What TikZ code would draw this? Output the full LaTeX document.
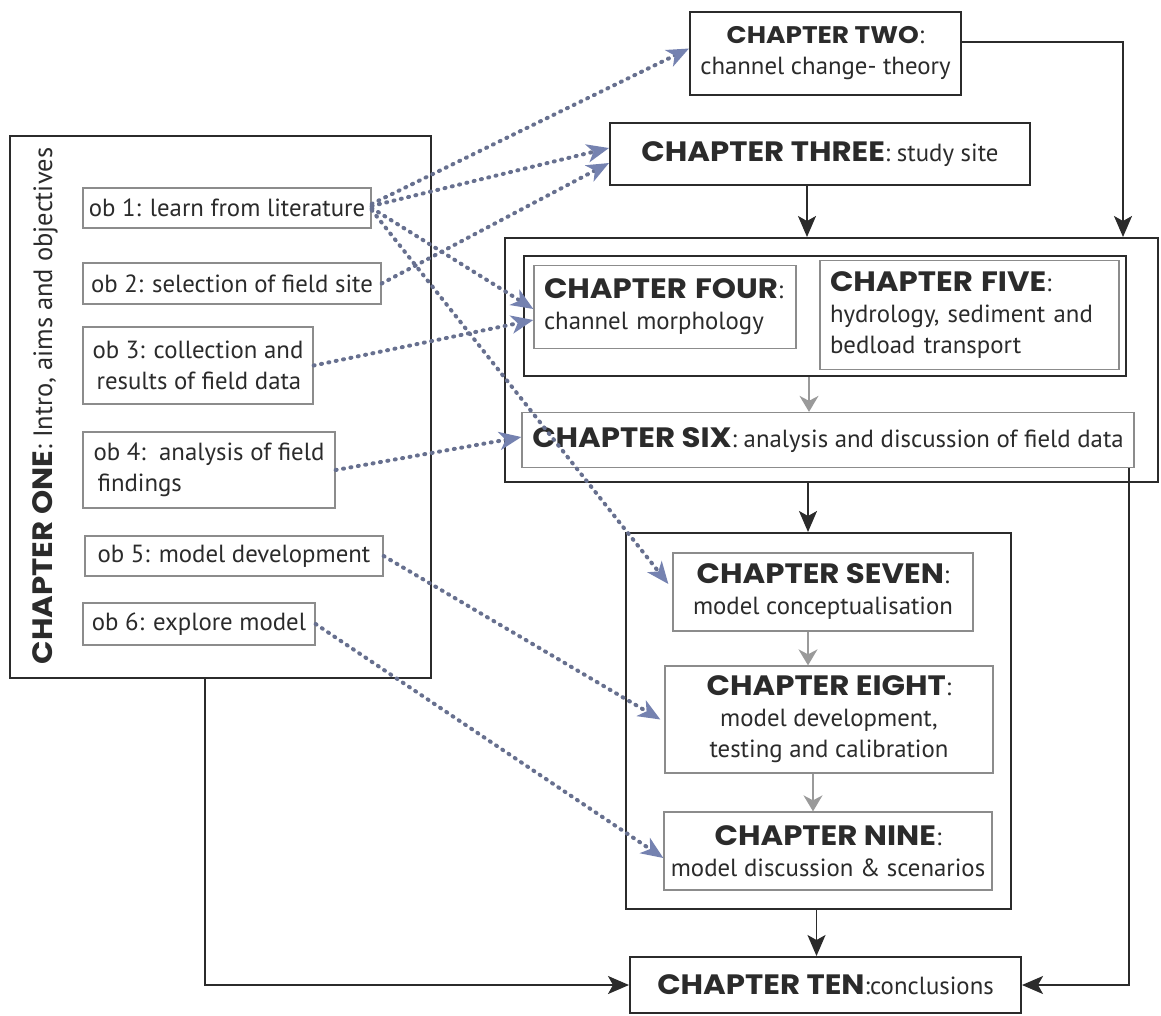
\documentclass[tikz,border=0pt]{standalone}
\usepackage{fontspec}
\setmainfont{PT Sans}
\newfontfamily\hfont[FakeStretch=1.1]{Poppins}
\usetikzlibrary{arrows.meta}
\definecolor{dk}{HTML}{2B2B2B}
\definecolor{lt}{HTML}{8C8C8C}
\definecolor{gr}{HTML}{9A9A9A}
\definecolor{bl}{HTML}{67708F}
\definecolor{blh}{HTML}{7582B0}
\newcommand\hd[1]{{\hfont\bfseries\fontsize{28}{31}\selectfont #1}}
\newcommand\hdsmall[1]{{\hfont\bfseries\fontsize{24}{31}\selectfont #1}}
\tikzset{
  mainbox/.style={draw=dk, line width=2pt, inner sep=0pt},
  litebox/.style={draw=lt, line width=1.3pt, inner sep=0pt},
  txt/.style={font=\fontsize{24.8}{31}\selectfont, text=dk},
  conn/.style={draw=dk, line width=1.8pt, -{Stealth[length=21pt,width=18pt,inset=5pt]}},
  gconn/.style={draw=gr, line width=1.5pt, -{Stealth[length=16pt,width=19pt,inset=5pt]}},
  dots/.style={draw=bl, line width=4pt, dash pattern=on 1pt off 6.5pt, line cap=round,
    -{Stealth[length=22pt,width=18pt,inset=6pt,color=blh]}}
}
\begin{document}
\begin{tikzpicture}[x=1pt,y=-1pt]
\useasboundingbox[fill=white] (0,0) rectangle (1161,1015);

% chapter one
\node[mainbox, minimum width=421pt, minimum height=542pt] (ch1) at (220.5,407) {};
\node[font=\fontsize{26.5}{31}\selectfont, text=dk, rotate=90, inner sep=0pt] (ch1lbl) at (45,406) {\hd{CHAPTER ONE}: Intro, aims and objectives};

\node[litebox, txt, align=left, minimum width=288pt, minimum height=40pt] (ob1) at (227,208) {ob 1: learn from literature};
\node[litebox, txt, align=left, minimum width=298pt, minimum height=41pt] (ob2) at (232,283.5) {ob 2: selection of field site};
\node[litebox, txt, align=left, minimum width=230pt, minimum height=77pt] (ob3) at (198,365.5) {ob 3: collection and\\\hspace*{4pt}results of field data};
\node[litebox, txt, align=left, minimum width=252pt, minimum height=76pt] (ob4) at (209,470) {ob 4:\ \ analysis of field\\\hspace*{4pt}findings};
\node[litebox, txt, align=left, minimum width=298pt, minimum height=40pt] (ob5) at (234,556) {ob 5: model development};
\node[litebox, txt, align=left, minimum width=232pt, minimum height=42pt] (ob6) at (199,624) {ob 6: explore model};

% top chapters
\node[mainbox, txt, align=center, minimum width=271pt, minimum height=83pt] (ch2) at (825.5,53.5) {\hdsmall{CHAPTER TWO}:\\channel change- theory};
\node[mainbox, txt, minimum width=420pt, minimum height=62pt] (ch3) at (820,154) {\hd{CHAPTER THREE}: study site};

% group chapters 4-6
\node[mainbox, minimum width=653pt, minimum height=244pt] (g1) at (831.5,360) {};
\node[draw=dk, line width=2.4pt, inner sep=0pt, minimum width=602pt, minimum height=120pt] (in45) at (825,316) {};
\node[litebox, txt, align=left, text width=242pt, inner xsep=10pt, minimum height=83.5pt] (ch4) at (665,307) {\hd{CHAPTER FOUR}:\\channel morphology};
\node[litebox, txt, align=left, text width=279pt, inner xsep=10pt, minimum height=109pt] (ch5) at (969.5,315) {\hd{CHAPTER FIVE}:\\hydrology, sediment and\\bedload transport};
\node[litebox, txt, minimum width=612pt, minimum height=55pt] (ch6) at (828,440) {\hd{CHAPTER SIX}:\ analysis and discussion of field data};

% group chapters 7-9
\node[mainbox, minimum width=385pt, minimum height=376pt] (g2) at (818.5,721) {};
\node[litebox, txt, align=center, minimum width=300pt, minimum height=78pt] (ch7) at (823,592) {\hd{CHAPTER SEVEN}:\\model conceptualisation};
\node[litebox, txt, align=center, minimum width=328pt, minimum height=107pt] (ch8) at (829,719.5) {\hd{CHAPTER EIGHT}:\\model development,\\testing and calibration};
\node[litebox, txt, align=center, minimum width=328pt, minimum height=78pt] (ch9) at (828,851) {\hd{CHAPTER NINE}:\\model discussion \& scenarios};

\node[mainbox, txt, minimum width=391pt, minimum height=56pt] (ch10) at (825.5,985) {\hd{CHAPTER TEN}:conclusions};

% solid connectors
\draw[conn] ([yshift=11.5pt]ch2.east) -| ([xshift=291.5pt]g1.north);
\draw[conn] ([xshift=-13pt]ch3.south) -- ([xshift=-13pt]ch3.south |- g1.north);
\draw[conn] ([xshift=-23.5pt]g1.south) -- ([xshift=-23.5pt]g1.south |- g2.north);
\draw[conn] ([xshift=-2pt]g2.south) -- ([xshift=-2pt]g2.south |- ch10.north);
\draw[conn] ([xshift=-15.5pt]ch1.south) |- (ch10.west);
\draw[conn] ([xshift=-6pt]ch6.south east) |- (ch10.east);

% gray connectors
\draw[gconn] ([xshift=-16pt]in45.south) -- ([xshift=-16pt]in45.south |- ch6.north);
\draw[gconn] ([xshift=-15pt]ch7.south) -- ([xshift=-15pt]ch7.south |- ch8.north);
\draw[gconn] ([xshift=-16pt]ch8.south) -- ([xshift=-16pt]ch8.south |- ch9.north);

% dotted objective links
\draw[dots] ([yshift=4pt]ob1.east) -- ([yshift=5pt]ch2.west);
\draw[dots] ([yshift=2pt]ob1.east) -- ([yshift=6pt]ch3.west);
\draw[dots] (ob2.east) -- ([yshift=-9pt]ch3.west);
\draw[dots] (ob1.east) -- ([yshift=-2pt]ch4.west);
\draw[dots] (ob3.east) -- ([yshift=-13pt]ch4.west);
\draw[dots] (ob4.east) -- ([yshift=3pt]ch6.west);
\draw[dots] ([yshift=-2pt]ob1.east) -- ([xshift=-4pt,yshift=8pt]ch7.west);
\draw[dots] (ob5.east) -- ([xshift=-4pt]ch8.west);
\draw[dots] (ob6.east) -- ([yshift=-7pt]ch9.west);
\end{tikzpicture}
\end{document}
